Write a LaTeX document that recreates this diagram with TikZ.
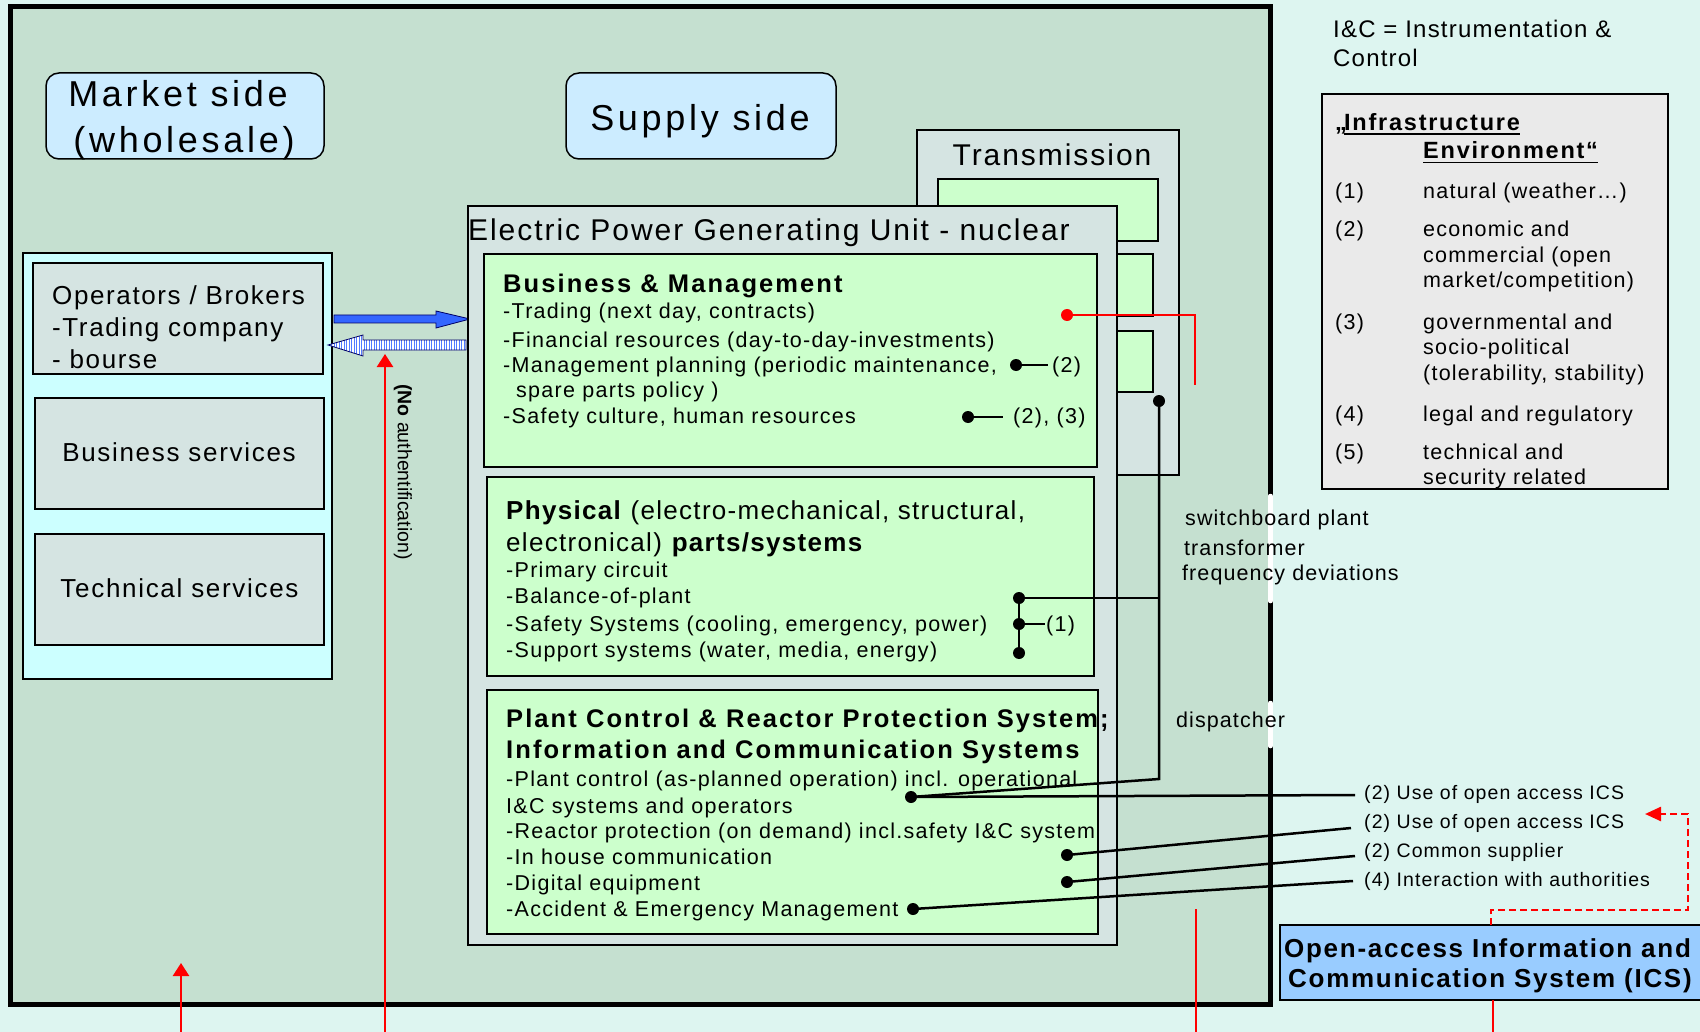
\documentclass[tikz,border=0pt]{standalone}
\usepackage{fontspec}
\setmainfont{Liberation Sans}[LetterSpace=5]
\newfontfamily\plainsans{Liberation Sans}
\usetikzlibrary{arrows.meta}

\definecolor{pagebg}{RGB}{221,245,240}
\definecolor{framebg}{RGB}{197,224,208}
\definecolor{sideblue}{RGB}{204,236,255}
\definecolor{cyanbox}{RGB}{204,255,255}
\definecolor{unitgray}{RGB}{213,228,226}
\definecolor{partgreen}{RGB}{204,255,204}
\definecolor{legendgray}{RGB}{234,234,234}
\definecolor{icsblue}{RGB}{153,204,255}
\definecolor{arrowblue}{RGB}{51,102,255}
\definecolor{linkred}{RGB}{255,0,0}

\begin{document}
\begin{tikzpicture}[x=1pt,y=-1pt,
  partbox/.style={draw=black,line width=2pt},
  bodytext/.style={anchor=base west,inner sep=0pt,font=\fontsize{21.5}{25}\selectfont\addfontfeatures{LetterSpace=6}},
  headbold/.style={anchor=base west,inner sep=0pt,font=\bfseries\fontsize{25.5}{30}\selectfont\addfontfeatures{LetterSpace=8.2}},
  headreg/.style={anchor=base west,inner sep=0pt,font=\fontsize{26}{30}\selectfont},
  optext/.style={anchor=base west,inner sep=0pt,font=\fontsize{26}{30}\selectfont\addfontfeatures{LetterSpace=6.2}},
  svctext/.style={anchor=base,inner sep=0pt,font=\fontsize{26}{30}\selectfont\addfontfeatures{LetterSpace=6.5}},
  sidetitle/.style={anchor=base,inner sep=0pt,font=\fontsize{36}{40}\selectfont\addfontfeatures{LetterSpace=10.3}},
  unittitle/.style={anchor=base west,inner sep=0pt,font=\fontsize{30}{34}\selectfont\addfontfeatures{LetterSpace=6.5}},
  annot/.style={anchor=base west,inner sep=0pt,font=\fontsize{21.5}{25}\selectfont},
  icslabel/.style={anchor=base west,inner sep=0pt,font=\fontsize{19.5}{23}\selectfont\addfontfeatures{LetterSpace=5.5}},
  legtext/.style={anchor=base west,inner sep=0pt,font=\fontsize{21.5}{25}\selectfont\addfontfeatures{LetterSpace=5.7}},
  leghead/.style={anchor=base west,inner sep=0pt,font=\bfseries\fontsize{23.5}{28}\selectfont\addfontfeatures{LetterSpace=7.5}},
  icstext/.style={anchor=base west,inner sep=0pt,font=\bfseries\fontsize{26}{30}\selectfont\addfontfeatures{LetterSpace=6.6}},
  blackdot/.style={circle,fill=black,inner sep=0pt,minimum size=12pt},
  reddot/.style={circle,fill=linkred,inner sep=0pt,minimum size=12pt},
  wire/.style={draw=black,line width=2.5pt},
  redwire/.style={draw=linkred,line width=2.2pt},
  redarrow/.style={draw=linkred,line width=2.5pt,-{Triangle[width=16pt,length=13pt]}},
]
\useasboundingbox (0,0) rectangle (1700,1032);
\fill[pagebg] (0,0) rectangle (1700,1032);

% outer frame of the plant environment
\draw[line width=5.5pt,fill=framebg] (10.5,6.5) rectangle (1270.5,1004.5);
\draw[white,line width=4.5pt,line cap=round] (1270.5,496) -- (1270.5,601);
\draw[white,line width=4.5pt,line cap=round] (1270.5,703) -- (1270.5,746);

% market / supply headers
\draw[fill=sideblue,line width=1.5pt,rounded corners=13pt] (46,73) rectangle (324,159);
\node[sidetitle] (mk1) at (178,107) {Market side};
\node[sidetitle] (mk2) at (184,153) {(wholesale)};
\draw[fill=sideblue,line width=1.5pt,rounded corners=13pt] (566,73) rectangle (836,159);
\node[sidetitle] (sp1) at (700,131) {Supply side};

% market participants
\draw[fill=cyanbox,line width=1.5pt] (23,253) rectangle (332,679);
\draw[partbox,fill=unitgray] (33,263) rectangle (323,374);
\node[optext] (op1) at (52,305) {Operators / Brokers};
\node[optext] (op2) at (52,337) {-Trading company};
\node[optext] (op3) at (52,368) {- bourse};
\draw[partbox,fill=unitgray] (35,398) rectangle (324,509);
\node[svctext] (bs) at (179,461) {Business services};
\draw[partbox,fill=unitgray] (35,534) rectangle (324,645);
\node[svctext] (ts) at (179.5,597) {Technical services};

% trading arrows
\draw[fill=arrowblue,draw=black!60!blue,line width=0.8pt]
  (334,315) -- (436,315) -- (436,311) -- (470,319) -- (436,328) -- (436,323) -- (334,323) -- cycle;
\begin{scope}
  \clip (466,340) -- (363,340) -- (363,335) -- (328,345) -- (363,356) -- (363,350) -- (466,350) -- cycle;
  \fill[white] (320,330) rectangle (470,360);
  \foreach \xx in {329,331.5,...,466}
    \draw[arrowblue!85,line width=1pt] (\xx,330) -- (\xx,360);
\end{scope}
\draw[draw=black!60!blue,line width=0.8pt]
  (466,340) -- (363,340) -- (363,335) -- (328,345) -- (363,356) -- (363,350) -- (466,350) -- cycle;

% transmission
\draw[partbox,fill=unitgray] (917,130) rectangle (1179,475);
\node[anchor=base,inner sep=0pt,font=\fontsize{30}{34}\selectfont\addfontfeatures{LetterSpace=6.5}] (trn) at (1052,166) {Transmission};
\draw[partbox,fill=partgreen,line width=1.8pt] (938,179) rectangle (1158,241);
\draw[partbox,fill=partgreen,line width=1.8pt] (938,254) rectangle (1153,316);
\draw[partbox,fill=partgreen,line width=1.8pt] (938,331) rectangle (1153,392);

% generating unit
\draw[partbox,fill=unitgray] (468,206) rectangle (1117,945);
\node[unittitle] (epgu) at (468,241) {Electric Power Generating Unit - nuclear};

% business & management
\draw[partbox,fill=partgreen] (484,254) rectangle (1097,467);
\node[headbold] (bmh) at (503,293) {Business \& Management};
\foreach \yy/\lintext [count=\i] in {319/{-Trading (next day, contracts)},347/{-Financial resources (day-to-day-investments)},372/{-Management planning (periodic maintenance,},423/{-Safety culture, human resources}}
  \node[bodytext] (bm\i) at (503,\yy) {\lintext};
\node[bodytext] (bm5) at (516,397) {spare parts policy )};
\node[blackdot] (bmd1) at (1016,365) {};
\coordinate (bme1) at (1048,365);
\draw[wire] (bmd1.center) -- (bme1);
\node[bodytext] (bmt1) at (1052,372) {(2)};
\node[blackdot] (bmd2) at (968,417) {};
\coordinate (bme2) at (1003,417);
\draw[wire] (bmd2.center) -- (bme2);
\node[bodytext] (bmt2) at (1013,423) {(2), (3)};

% physical parts
\draw[partbox,fill=partgreen] (487,477) rectangle (1094,676);
\node[headreg] (ph1) at (506,519) {\textbf{Physical} (electro-mechanical, structural,};
\node[headreg] (ph2) at (506,551) {electronical) \textbf{parts/systems}};
\foreach \yy/\lintext [count=\i] in {577/{-Primary circuit},603/{-Balance-of-plant},631/{-Safety Systems (cooling, emergency, power)},657/{-Support systems (water, media, energy)}}
  \node[bodytext] (pl\i) at (506,\yy) {\lintext};
\node[blackdot] (phd1) at (1019,598) {};
\node[blackdot] (phd2) at (1019,624) {};
\node[blackdot] (phd3) at (1019,653) {};
\draw[wire] (phd1.center) -- (phd2.center) -- (phd3.center);
\coordinate (phe) at (1045,624);
\draw[wire] (phd2.center) -- (phe);
\node[bodytext] (pht) at (1046,631) {(1)};

% plant control & ICT
\draw[partbox,fill=partgreen] (487,690) rectangle (1098,934);
\node[headbold] (pch1) at (506,727) {Plant Control \& Reactor Protection System;};
\node[headbold] (pch2) at (506,758) {Information and Communication Systems};
\foreach \yy/\lintext [count=\i] in {786/{-Plant control (as-planned operation) incl. operational},813/{I\&C systems and operators},838/{-Reactor protection (on demand) incl.safety I\&C system},864/{-In house communication},890/{-Digital equipment},916/{-Accident \& Emergency Management}}
  \node[bodytext] (pc\i) at (506,\yy) {\lintext};

% red trading link
\node[reddot] (rd) at (1067,315) {};
\coordinate (rc1) at (1195,315);
\coordinate (rc2) at (1195,385);
\draw[redwire] (rd.center) -- (rc1) -- (rc2);

% grid connection and ICS links
\node[blackdot] (trd) at (1159,401) {};
\coordinate (bend1) at (1159,779);
\coordinate (phj) at (1159,598);
\node[blackdot] (pcd1) at (911,797) {};
\node[blackdot] (pcd2) at (1067,855) {};
\node[blackdot] (pcd3) at (1067,882) {};
\node[blackdot] (pcd4) at (913,909) {};
\draw[wire] (trd.center) -- (bend1) -- (pcd1.center);
\draw[wire] (phd1.center) -- (phj);
\coordinate (le1) at (1355,795);
\coordinate (le2) at (1351,828);
\coordinate (le3) at (1355,856);
\coordinate (le4) at (1353,881);
\draw[wire] (pcd1.center) -- (le1);
\draw[wire] (pcd2.center) -- (le2);
\draw[wire] (pcd3.center) -- (le3);
\draw[wire] (pcd4.center) -- (le4);
\node[icslabel] (lt1) at (1364,799) {(2) Use of open access ICS};
\node[icslabel] (lt2) at (1364,828) {(2) Use of open access ICS};
\node[icslabel] (lt3) at (1364,857) {(2) Common supplier};
\node[icslabel] (lt4) at (1364,886) {(4) Interaction with authorities};

% grid side annotations
\node[annot] (sw1) at (1185,525) {switchboard plant};
\node[annot] (sw2) at (1184,555) {transformer};
\node[annot] (sw3) at (1182,580) {frequency deviations};
\node[annot] (dsp) at (1176,727) {dispatcher};

% open-access ICS
\draw[fill=icsblue,line width=1.8pt] (1280,925) rectangle (1712,1000);
\node[icstext] (ics1) at (1284,957) {Open-access Information and};
\node[icstext] (ics2) at (1288,987) {Communication System (ICS)};
\coordinate (icsA) at (1491,925);
\coordinate (icsB) at (1491,910);
\coordinate (icsC) at (1688,910);
\coordinate (icsD) at (1688,814);
\coordinate (icsE) at (1645,814);
\draw[linkred,line width=2.5pt,dash pattern=on 7pt off 4pt,-{Triangle[width=14pt,length=16pt]}]
  (icsA) -- (icsB) -- (icsC) -- (icsD) -- (icsE);
\coordinate (icsF) at (1493,1000);
\coordinate (icsG) at (1493,1032);
\draw[redwire] (icsF) -- (icsG);

% external influences entering from below
\coordinate (na1) at (385,1032);
\coordinate (na2) at (385,354);
\draw[redarrow] (na1) -- (na2);
\node[rotate=-90,inner sep=0pt,font=\plainsans\fontsize{19.5}{23}\selectfont] (noauth) at (403,472) {\textbf{(No} authentification)};
\coordinate (mk3) at (181,1032);
\coordinate (mk4) at (181,963);
\draw[redarrow] (mk3) -- (mk4);
\coordinate (gr1) at (1196,909);
\coordinate (gr2) at (1196,1032);
\draw[redwire] (gr1) -- (gr2);

% legend
\node[anchor=base west,inner sep=0pt,font=\fontsize{24}{28}\selectfont] (ic1) at (1333,38) {I\&C = Instrumentation \&};
\node[anchor=base west,inner sep=0pt,font=\fontsize{24}{28}\selectfont] (ic2) at (1333,67) {Control};
\draw[fill=legendgray,line width=1.5pt] (1322,94) rectangle (1668,489);
\node[leghead] (lq) at (1335,131) {„};
\node[leghead] (lh1) at (1344,131) {Infrastructure};
\node[leghead] (lh2) at (1423,159) {Environment“};
\draw[line width=1.8pt] ([yshift=-3pt]lh1.base west) -- ([yshift=-3pt]lh1.base east);
\draw[line width=1.8pt] ([yshift=-3.5pt]lh2.base west) -- ([yshift=-3.5pt]lh2.base east);
\node[legtext] (ln1) at (1335,199) {(1)};
\node[legtext] (lx1) at (1423,199) {natural (weather…)};
\node[legtext] (ln2) at (1335,237) {(2)};
\node[legtext] (lx2a) at (1423,237) {economic and};
\node[legtext] (lx2b) at (1423,263) {commercial (open};
\node[legtext] (lx2c) at (1423,288) {market/competition)};
\node[legtext] (ln3) at (1335,330) {(3)};
\node[legtext] (lx3a) at (1423,330) {governmental and};
\node[legtext] (lx3b) at (1423,354) {socio-political};
\node[legtext] (lx3c) at (1423,380) {(tolerability, stability)};
\node[legtext] (ln4) at (1335,421) {(4)};
\node[legtext] (lx4) at (1423,421) {legal and regulatory};
\node[legtext] (ln5) at (1335,459) {(5)};
\node[legtext] (lx5a) at (1423,459) {technical and};
\node[legtext] (lx5b) at (1423,484) {security related};
\end{tikzpicture}
\end{document}
